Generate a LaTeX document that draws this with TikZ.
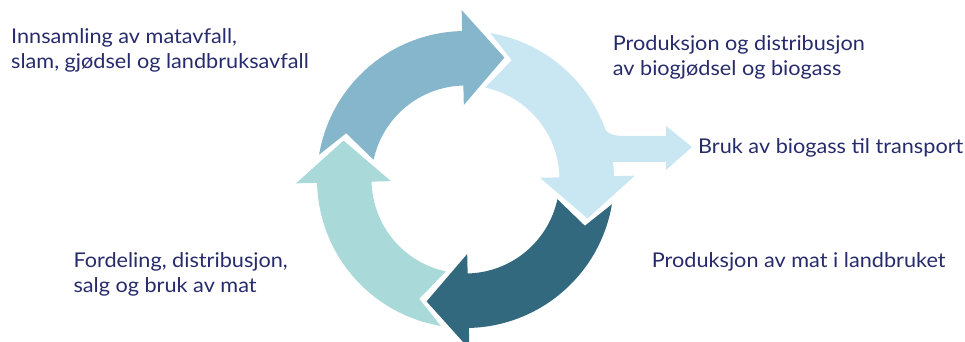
\documentclass[tikz,border=0pt]{standalone}
\usepackage{fontspec}
\setmainfont{Lato}[FakeStretch=1.067]
\definecolor{cmed}{HTML}{85B6CB}
\definecolor{clight}{HTML}{C9E7F3}
\definecolor{cdark}{HTML}{33697E}
\definecolor{cteal}{HTML}{A9DAD9}
\definecolor{ctext}{HTML}{262B6B}
\def\Ro{148.5}\def\Ri{94}\def\Wo{169.5}\def\Wi{74.5}\def\Tr{128}\def\dl{3.5}
\newcommand\ringseg[2]{%
  \pgfmathsetmacro\Pa{#1+90}%
  \pgfmathsetmacro\Oc{\Pa-7.4-\dl}%
  \pgfmathsetmacro\Ic{\Pa-9.9-\dl}%
  \pgfmathsetmacro\Nv{\Pa-19-\dl}%
  \pgfmathsetmacro\Tp{#1-19}%
  \fill[#2] (\Oc:\Ro) arc[start angle=\Oc, end angle=#1, radius=\Ro pt]
    -- (#1:\Wo) -- (\Tp:\Tr) -- (#1:\Wi) -- (#1:\Ri)
    arc[start angle=#1, end angle=\Ic, radius=\Ri pt]
    -- (\Nv:\Tr) -- cycle;
}
\tikzset{lbl/.style={inner sep=0pt, anchor=base west, align=left, text=ctext,
  font=\fontsize{20.3}{25.5}\selectfont}}
\begin{document}
\begin{tikzpicture}[x=1pt,y=1pt]
\useasboundingbox (0,0) rectangle (965,342);
\clip (0,0) rectangle (965,342);
\begin{scope}[shift={(465.5,162.5)}]
  \ringseg{91.3}{cmed}
  \ringseg{1.3}{clight}
  \ringseg{-88.7}{cdark}
  \ringseg{181.3}{cteal}
\end{scope}
\fill[clight] (590,217) -- (601,221) .. controls (605,209) and (610,206) .. (625,206)
  -- (666,206) -- (666,216) -- (692,195) -- (666,172) -- (666,180) -- (614,180)
  -- (598,180) -- cycle;
\node[lbl] (t1) at (11,273.2) {Innsamling av matavfall,\\slam, gjødsel og landbruksavfall};
\node[lbl] (t2) at (612.7,266.3) {Produksjon og distribusjon\\av biogjødsel og biogass};
\node[lbl] (t3) at (698,188.7) {Bruk av biogass til transport};
\node[lbl] (t4) at (73.3,49.3) {Fordeling, distribusjon,\\salg og bruk av mat};
\node[lbl] (t5) at (651.7,74.7) {Produksjon av mat i landbruket};
\end{tikzpicture}
\end{document}
